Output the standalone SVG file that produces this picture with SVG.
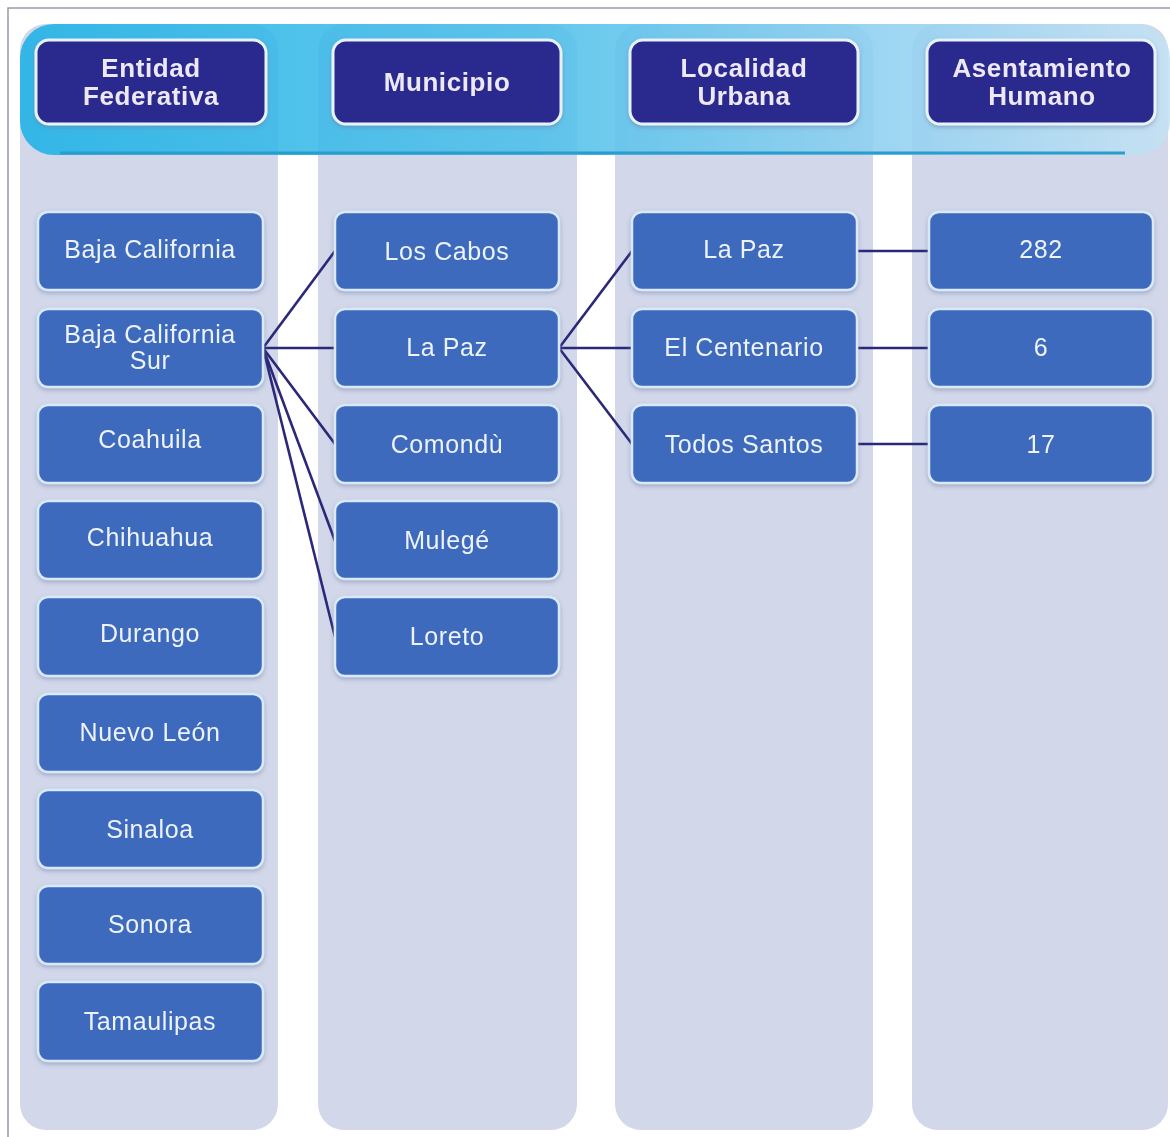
<svg xmlns="http://www.w3.org/2000/svg" width="1170" height="1137" viewBox="0 0 1170 1137">
<defs>
<linearGradient id="band" x1="0" y1="0" x2="1" y2="0">
<stop offset="0" stop-color="#1db2e6"/>
<stop offset="0.45" stop-color="#4ec0ea"/>
<stop offset="0.75" stop-color="#8fd0f0"/>
<stop offset="1" stop-color="#c4e2f4"/>
</linearGradient>
<filter id="sh" x="-10%" y="-10%" width="120%" height="130%">
<feDropShadow dx="0" dy="2" stdDeviation="2" flood-color="#6a7aa0" flood-opacity="0.5"/>
</filter>
</defs>
<style>
.col{fill:#d2d7ea}
.hdr rect{fill:#2c2a8e;stroke:#e6f2fc;stroke-width:3}
.hdr text{font-family:"Liberation Sans",Arial,sans-serif;font-weight:bold;font-size:26px;letter-spacing:0.6px;fill:#ece8f6;text-anchor:middle}
.nd rect{fill:#3c6bbd;stroke:#d9e9fa;stroke-width:2.5}
.nd text{font-family:"Liberation Sans",Arial,sans-serif;font-size:25px;letter-spacing:0.6px;fill:#eef2fa;text-anchor:middle}
#connectors line{stroke:#2b2878;stroke-width:2.6}
</style>
<rect width="1170" height="1137" fill="#ffffff"/>
<path d="M8 1137 V8 H1170" fill="none" stroke="#9b9aaa" stroke-width="1.5"/>
<g id="columns">
<rect class="col" x="20" y="24" width="258" height="1106" rx="26"/>
<rect class="col" x="318" y="24" width="259" height="1106" rx="26"/>
<rect class="col" x="615" y="24" width="258" height="1106" rx="26"/>
<rect class="col" x="912" y="24" width="256" height="1106" rx="26"/>
</g>
<g id="band">
<rect x="20" y="24" width="1150" height="131" rx="34" fill="url(#band)" opacity="0.88"/>
<line x1="60" y1="153" x2="1125" y2="153" stroke="#2a9cce" stroke-width="3"/>
</g>
<g id="h-entidad" class="hdr" filter="url(#sh)"><rect x="36" y="40" width="230" height="84" rx="13"/><text x="151" y="77">Entidad</text><text x="151" y="105">Federativa</text></g>
<g id="h-municipio" class="hdr" filter="url(#sh)"><rect x="333" y="40" width="228" height="84" rx="13"/><text x="447" y="91">Municipio</text></g>
<g id="h-localidad" class="hdr" filter="url(#sh)"><rect x="630" y="40" width="228" height="84" rx="13"/><text x="744" y="77">Localidad</text><text x="744" y="105">Urbana</text></g>
<g id="h-asentamiento" class="hdr" filter="url(#sh)"><rect x="927" y="40" width="228" height="84" rx="13"/><text x="1042" y="77">Asentamiento</text><text x="1042" y="105">Humano</text></g>
<g id="connectors">
<line x1="263" y1="348" x2="335" y2="251"/>
<line x1="263" y1="348" x2="335" y2="348"/>
<line x1="263" y1="348" x2="335" y2="444"/>
<line x1="263" y1="348" x2="335" y2="541"/>
<line x1="263" y1="348" x2="335" y2="637"/>
<line x1="559" y1="348" x2="632" y2="251"/>
<line x1="559" y1="348" x2="632" y2="348"/>
<line x1="559" y1="348" x2="632" y2="444"/>
<line x1="857" y1="251" x2="929" y2="251"/>
<line x1="857" y1="348" x2="929" y2="348"/>
<line x1="857" y1="444" x2="929" y2="444"/>
</g>
<g id="n-bc" class="nd" filter="url(#sh)"><rect x="38" y="212" width="225" height="78" rx="10"/><text x="150" y="258">Baja California</text></g>
<g id="n-bcs" class="nd" filter="url(#sh)"><rect x="38" y="309" width="225" height="78" rx="10"/><text x="150" y="343">Baja California</text><text x="150" y="369">Sur</text></g>
<g id="n-coahuila" class="nd" filter="url(#sh)"><rect x="38" y="405" width="225" height="78" rx="10"/><text x="150" y="448">Coahuila</text></g>
<g id="n-chihuahua" class="nd" filter="url(#sh)"><rect x="38" y="501" width="225" height="78" rx="10"/><text x="150" y="546">Chihuahua</text></g>
<g id="n-durango" class="nd" filter="url(#sh)"><rect x="38" y="597" width="225" height="79" rx="10"/><text x="150" y="642">Durango</text></g>
<g id="n-nuevoleon" class="nd" filter="url(#sh)"><rect x="38" y="694" width="225" height="78" rx="10"/><text x="150" y="741">Nuevo León</text></g>
<g id="n-sinaloa" class="nd" filter="url(#sh)"><rect x="38" y="790" width="225" height="78" rx="10"/><text x="150" y="838">Sinaloa</text></g>
<g id="n-sonora" class="nd" filter="url(#sh)"><rect x="38" y="886" width="225" height="78" rx="10"/><text x="150" y="933">Sonora</text></g>
<g id="n-tamaulipas" class="nd" filter="url(#sh)"><rect x="38" y="982" width="225" height="79" rx="10"/><text x="150" y="1030">Tamaulipas</text></g>
<g id="n-loscabos" class="nd" filter="url(#sh)"><rect x="335" y="212" width="224" height="78" rx="10"/><text x="447" y="260">Los Cabos</text></g>
<g id="n-lapaz-m" class="nd" filter="url(#sh)"><rect x="335" y="309" width="224" height="78" rx="10"/><text x="447" y="356">La Paz</text></g>
<g id="n-comondu" class="nd" filter="url(#sh)"><rect x="335" y="405" width="224" height="78" rx="10"/><text x="447" y="453">Comondù</text></g>
<g id="n-mulege" class="nd" filter="url(#sh)"><rect x="335" y="501" width="224" height="78" rx="10"/><text x="447" y="549">Mulegé</text></g>
<g id="n-loreto" class="nd" filter="url(#sh)"><rect x="335" y="597" width="224" height="79" rx="10"/><text x="447" y="645">Loreto</text></g>
<g id="n-lapaz-l" class="nd" filter="url(#sh)"><rect x="632" y="212" width="225" height="78" rx="10"/><text x="744" y="258">La Paz</text></g>
<g id="n-centenario" class="nd" filter="url(#sh)"><rect x="632" y="309" width="225" height="78" rx="10"/><text x="744" y="356">El Centenario</text></g>
<g id="n-todossantos" class="nd" filter="url(#sh)"><rect x="632" y="405" width="225" height="78" rx="10"/><text x="744" y="453">Todos Santos</text></g>
<g id="n-282" class="nd" filter="url(#sh)"><rect x="929" y="212" width="224" height="78" rx="10"/><text x="1041" y="258">282</text></g>
<g id="n-6" class="nd" filter="url(#sh)"><rect x="929" y="309" width="224" height="78" rx="10"/><text x="1041" y="356">6</text></g>
<g id="n-17" class="nd" filter="url(#sh)"><rect x="929" y="405" width="224" height="78" rx="10"/><text x="1041" y="453">17</text></g>
</svg>
